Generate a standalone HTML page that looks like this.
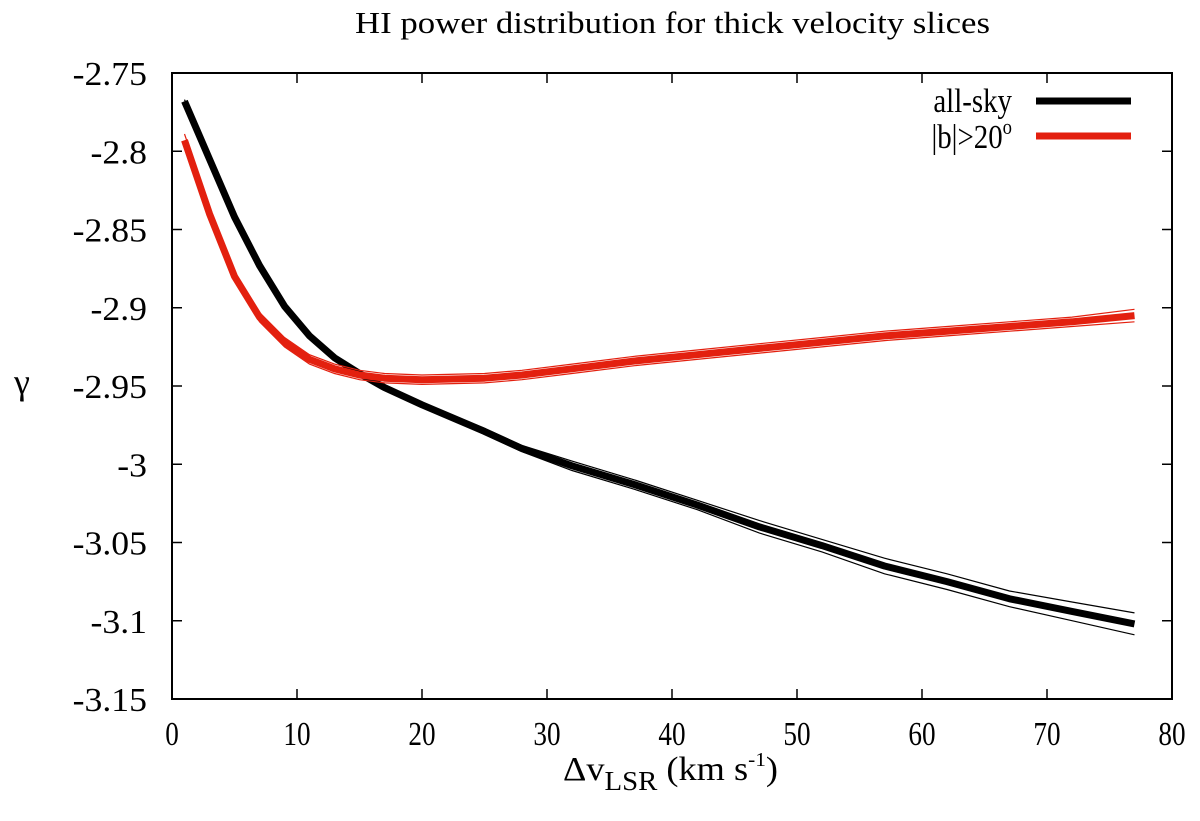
<!DOCTYPE html>
<html><head><meta charset="utf-8"><style>
body{margin:0;background:#fff}
svg text{font-family:"Liberation Serif",serif;fill:#000}
</style></head><body>
<svg id="chart" width="1200" height="816" xmlns="http://www.w3.org/2000/svg">
<text x="355" y="33" font-size="31" textLength="635" lengthAdjust="spacingAndGlyphs">HI power distribution for thick velocity slices</text>
<g id="ticks"></g>
<g id="series"></g>
<rect x="172" y="73" width="1000" height="626" fill="none" stroke="#000" stroke-width="2"/>
<text x="22" y="394" font-size="36" text-anchor="middle">γ</text>
<text x="563" y="780" font-size="34" textLength="215" lengthAdjust="spacingAndGlyphs">Δv<tspan font-size="27" dy="10">LSR</tspan><tspan dy="-10"> (km s</tspan><tspan font-size="20" dy="-14">-1</tspan><tspan dy="14">)</tspan></text>
<g>
<text x="1012" y="112" font-size="34" text-anchor="end" transform="translate(1012 0) scale(0.85 1) translate(-1012 0)">all-sky</text>
<line x1="1036" y1="101" x2="1131" y2="101" stroke="#000" stroke-width="7"/>
<text x="1012" y="148" font-size="34" text-anchor="end" transform="translate(1012 0) scale(0.85 1) translate(-1012 0)">|b|&gt;20<tspan font-size="22" dy="-14">o</tspan></text>
<line x1="1036" y1="136" x2="1131" y2="136" stroke="#e3200f" stroke-width="7"/>
</g>
</svg>
<script>
const xs = [1,3,5,7,9,11,13,15,17,20,25,28,32,37,42,47,52,57,62,67,72,77];
const allSky = [-2.768,-2.805,-2.842,-2.873,-2.899,-2.918,-2.932,-2.942,-2.951,-2.962,-2.979,-2.990,-3.001,-3.013,-3.026,-3.040,-3.052,-3.065,-3.075,-3.086,-3.094,-3.102];
const allSkyErr = [0.001,0.001,0.001,0.001,0.001,0.001,0.001,0.001,0.001,0.001,0.002,0.002,0.003,0.003,0.003,0.004,0.004,0.005,0.005,0.005,0.006,0.007];
const highLat = [-2.793,-2.840,-2.880,-2.906,-2.922,-2.933,-2.939,-2.943,-2.945,-2.946,-2.945,-2.943,-2.939,-2.934,-2.930,-2.926,-2.922,-2.918,-2.915,-2.912,-2.909,-2.905];
const highLatErr = [0.004,0.004,0.003,0.003,0.003,0.003,0.003,0.003,0.003,0.003,0.003,0.003,0.003,0.003,0.003,0.003,0.003,0.003,0.003,0.003,0.003,0.004];
const xTicks = [0,10,20,30,40,50,60,70,80];
const yTicks = [-2.75,-2.8,-2.85,-2.9,-2.95,-3,-3.05,-3.1,-3.15];
const yTickLabels = ["-2.75","-2.8","-2.85","-2.9","-2.95","-3","-3.05","-3.1","-3.15"];

const NS="http://www.w3.org/2000/svg";
const X = v => 172 + (v-0)/80*1000;
const Y = v => 73 + (-2.75 - v)/0.4*626;
const tg=document.getElementById('ticks'), sg=document.getElementById('series');
function mk(tag, attrs, parent){const e=document.createElementNS(NS,tag);for(const k in attrs)e.setAttribute(k,attrs[k]);parent.appendChild(e);return e;}
xTicks.forEach(t=>{
  const x=X(t);
  let l=mk('line',{x1:x,y1:699,x2:x,y2:689,stroke:'#000','stroke-width':1.5},tg);
  
  
  l=mk('line',{x1:x,y1:73,x2:x,y2:83,stroke:'#000','stroke-width':1.5},tg);
  
  
  const tx=mk('text',{x:0,y:0,'font-size':34,'text-anchor':'middle',transform:`translate(${x} 745) scale(0.8 1)`},tg);
  tx.textContent=t;
  
  
});
yTicks.forEach((t,i)=>{
  const y=Y(t);
  let l=mk('line',{x1:172,y1:y,x2:182,y2:y,stroke:'#000','stroke-width':1.5},tg);
  
  
  l=mk('line',{x1:1162,y1:y,x2:1172,y2:y,stroke:'#000','stroke-width':1.5},tg);
  
  
  const tx=mk('text',{x:0,y:0,'font-size':34,'text-anchor':'end',transform:`translate(147 ${y+12}) scale(1.05 1)`},tg);
  tx.textContent=yTickLabels[i];
  
  
});
function pts(vals,off){return xs.map((x,i)=>X(x).toFixed(1)+','+Y(vals[i]+off[i]).toFixed(1)).join(' ');}
function series(vals,err,color,name){
  const zero=vals.map(()=>0), pe=err, ne=err.map(e=>-e);
  let p=mk('polyline',{points:pts(vals,pe),fill:'none',stroke:color,'stroke-width':1.2},sg);
  
  
  p=mk('polyline',{points:pts(vals,ne),fill:'none',stroke:color,'stroke-width':1.2},sg);
  
  
  p=mk('polyline',{points:pts(vals,zero),fill:'none',stroke:color,'stroke-width':7,'stroke-linejoin':'round'},sg);
  
  
}
series(allSky,allSkyErr,'#000','all-sky');
series(highLat,highLatErr,'#e3200f','high-latitude');
</script>
</body></html>
